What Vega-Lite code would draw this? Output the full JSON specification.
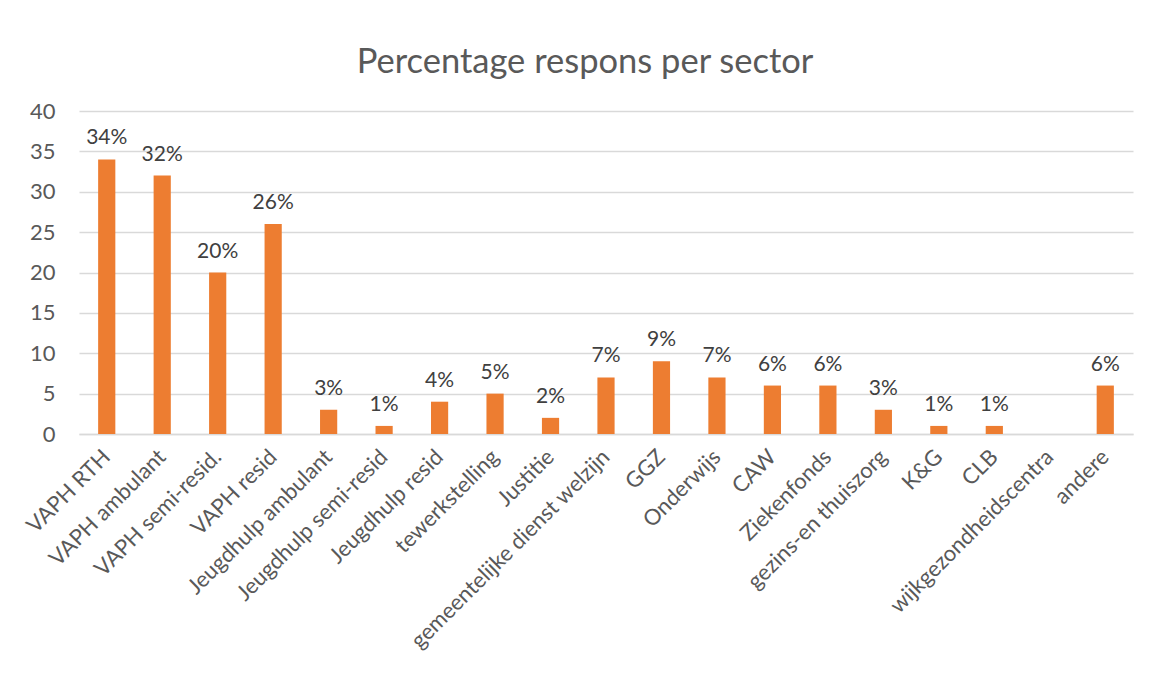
{
  "$schema": "https://vega.github.io/schema/vega-lite/v6.json",
  "width": 1054,
  "height": 323,
  "autosize": {"type": "none"},
  "padding": {"left": 79, "top": 111, "right": 20, "bottom": 247},
  "background": "white",
  "title": {
    "text": "Percentage respons per sector",
    "font": "Lato",
    "fontSize": 34.5,
    "fontWeight": "normal",
    "color": "#595959",
    "anchor": "middle",
    "dx": -21,
    "offset": 20
  },
  "data": {
    "values": [
      {"sector": "VAPH RTH", "value": 34, "label": "34%"},
      {"sector": "VAPH ambulant", "value": 32, "label": "32%"},
      {"sector": "VAPH semi-resid.", "value": 20, "label": "20%"},
      {"sector": "VAPH resid", "value": 26, "label": "26%"},
      {"sector": "Jeugdhulp ambulant", "value": 3, "label": "3%"},
      {"sector": "Jeugdhulp semi-resid", "value": 1, "label": "1%"},
      {"sector": "Jeugdhulp resid", "value": 4, "label": "4%"},
      {"sector": "tewerkstelling", "value": 5, "label": "5%"},
      {"sector": "Justitie", "value": 2, "label": "2%"},
      {"sector": "gemeentelijke dienst welzijn", "value": 7, "label": "7%"},
      {"sector": "GGZ", "value": 9, "label": "9%"},
      {"sector": "Onderwijs", "value": 7, "label": "7%"},
      {"sector": "CAW", "value": 6, "label": "6%"},
      {"sector": "Ziekenfonds", "value": 6, "label": "6%"},
      {"sector": "gezins-en thuiszorg", "value": 3, "label": "3%"},
      {"sector": "K&G", "value": 1, "label": "1%"},
      {"sector": "CLB", "value": 1, "label": "1%"},
      {"sector": "wijkgezondheidscentra", "value": 0, "label": ""},
      {"sector": "andere", "value": 6, "label": "6%"}
    ]
  },
  "encoding": {
    "x": {
      "field": "sector",
      "type": "nominal",
      "sort": null,
      "scale": {"paddingInner": 0.69, "paddingOuter": 0.345},
      "axis": {
        "title": null,
        "labelAngle": -45,
        "labelAlign": "right",
        "labelBaseline": "middle",
        "labelFont": "Lato",
        "labelFontSize": 22,
        "labelColor": "#595959",
        "labelPadding": 19,
        "ticks": false,
        "domain": true,
        "domainColor": "#d9d9d9",
        "domainWidth": 1.5,
        "labelLimit": 400
      }
    },
    "y": {
      "field": "value",
      "type": "quantitative",
      "scale": {"domain": [0, 40]},
      "axis": {
        "title": null,
        "values": [0, 5, 10, 15, 20, 25, 30, 35, 40],
        "labelFont": "Lato",
        "labelFontSize": 22,
        "labelColor": "#595959",
        "labelPadding": 24,
        "ticks": false,
        "domain": false,
        "grid": true,
        "gridColor": "#d9d9d9",
        "gridWidth": 1.5
      }
    }
  },
  "layer": [
    {"mark": {"type": "bar", "color": "#ED7D31"}},
    {
      "mark": {"type": "text", "baseline": "bottom", "dy": -11, "font": "Lato", "fontSize": 21, "color": "#404040"},
      "encoding": {"text": {"field": "label"}}
    }
  ],
  "config": {"view": {"stroke": null}}
}
